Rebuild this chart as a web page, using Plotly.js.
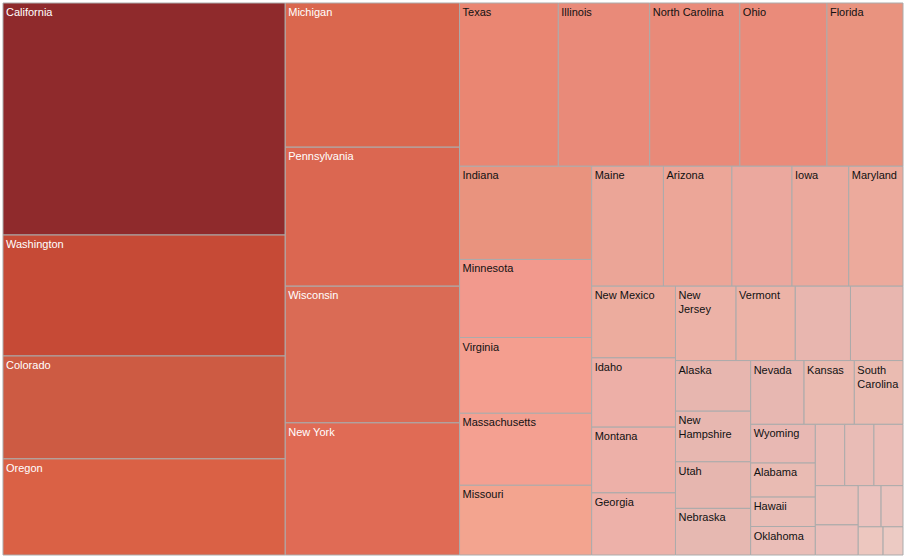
<!DOCTYPE html>
<html>
<head>
<meta charset="utf-8">
<script src="https://cdn.plot.ly/plotly-3.0.1.min.js"></script>
<style>
html,body{margin:0;padding:0;background:#fff;}
#chart{width:908px;height:559px;}
</style>
</head>
<body>
<div id="chart"></div>
<script>
// State names (leaf labels)
var states = [
  "California","Washington","Colorado","Oregon",
  "Michigan","Pennsylvania","Wisconsin","New York",
  "Texas","Illinois","North Carolina","Ohio","Florida",
  "Indiana","Minnesota","Virginia","Massachusetts","Missouri",
  "Maine","Arizona","Connecticut","Iowa","Maryland",
  "New Mexico","Idaho","Montana","Georgia",
  "New Jersey","Vermont","Tennessee","Louisiana",
  "Alaska","New Hampshire","Utah","Nebraska",
  "Nevada","Kansas","South Carolina",
  "Wyoming","Alabama","Hawaii","Oklahoma",
  "Kentucky","Rhode Island","South Dakota",
  "Arkansas","Delaware",
  "West Virginia","North Dakota",
  "Mississippi","District of Columbia"
];
// Values read from tile areas
var values = [
  654, 341, 290, 271,
  251, 242, 238, 230,
  161, 149, 147, 142, 124,
  123, 103, 100, 95, 92,
  86, 82, 72, 68, 65,
  60, 58, 55, 52,
  45, 44, 41, 39,
  38, 38, 35, 35,
  34, 32, 31,
  25, 22, 19, 18.4,
  18.0, 17.9, 17.8,
  16.8, 12.9,
  9.4, 9.0,
  7.0, 5.6
];
// Displayed label text ("" where the reference shows no label)
var shownText = [
  "California","Washington","Colorado","Oregon",
  "Michigan","Pennsylvania","Wisconsin","New York",
  "Texas","Illinois","North Carolina","Ohio","Florida",
  "Indiana","Minnesota","Virginia","Massachusetts","Missouri",
  "Maine","Arizona","","Iowa","Maryland",
  "New Mexico","Idaho","Montana","Georgia",
  "New<br>Jersey","Vermont","","",
  "Alaska","New<br>Hampshire","Utah","Nebraska",
  "Nevada","Kansas","South<br>Carolina",
  "Wyoming","Alabama","Hawaii","Oklahoma",
  "","","",
  "","",
  "","",
  "",""
];
// Tile colours
var tileColors = [
  "#8F2A2C","#C64A36","#CD5B43","#DA6145",
  "#DA674E","#DB6751","#DA6B55","#E06B55",
  "#EA8672","#E98A79","#E98A79","#EA8B7A","#E9937F",
  "#E9937E","#F2998D","#F49E8F","#F4A091","#F3A48F",
  "#EBA597","#ECA698","#EBA89E","#EBA99D","#ECAA9C",
  "#ECAC9E","#EDAFA7","#EDB0A8","#EDB1A9",
  "#ECB2A7","#ECB3A7","#E8B6AF","#E8B6AF",
  "#E7B6AF","#E7B7B0","#E6B6AF","#E6B8B1",
  "#E7B7B1","#EABAB0","#EABBB1",
  "#E8B8B3","#E9BBB3","#E9BDB6","#EABDB7",
  "#E9BCB6","#E9BCB6","#EBBDB7",
  "#EABFB9","#EABFBB",
  "#EBC2BE","#EBC3BE",
  "#EDC7BF","#ECCAC3"
];

function lum(hex){
  var r=parseInt(hex.substr(1,2),16), g=parseInt(hex.substr(3,2),16), b=parseInt(hex.substr(5,2),16);
  return 0.299*r+0.587*g+0.114*b;
}
var textColors = tileColors.map(function(c){ return lum(c) < 140 ? "#FFFFFF" : "#111111"; });
var parents = states.map(function(){ return ""; });

var trace = {
  type: "treemap",
  labels: states,
  parents: parents,
  values: values,
  text: shownText,
  textinfo: "text",
  textposition: "top left",
  sort: true,
  branchvalues: "remainder",
  tiling: {packing: "squarify", squarifyratio: 1.618034, pad: 0},
  marker: {
    colors: tileColors,
    line: {color: "#ABABAB", width: 1},
    pad: {t: 0, l: 0, r: 0, b: 0}
  },
  textfont: {family: "Liberation Sans, Arial, sans-serif", size: 11, color: textColors},
  pathbar: {visible: false},
  hoverinfo: "label+value"
};

var layout = {
  width: 908,
  height: 559,
  margin: {l: 3, r: 5, t: 3, b: 4},
  paper_bgcolor: "#FFFFFF",
  uniformtext: {minsize: 11, mode: "show"},
  showlegend: false
};

Plotly.newPlot("chart", [trace], layout, {displayModeBar: false, staticPlot: true});
</script>
</body>
</html>
